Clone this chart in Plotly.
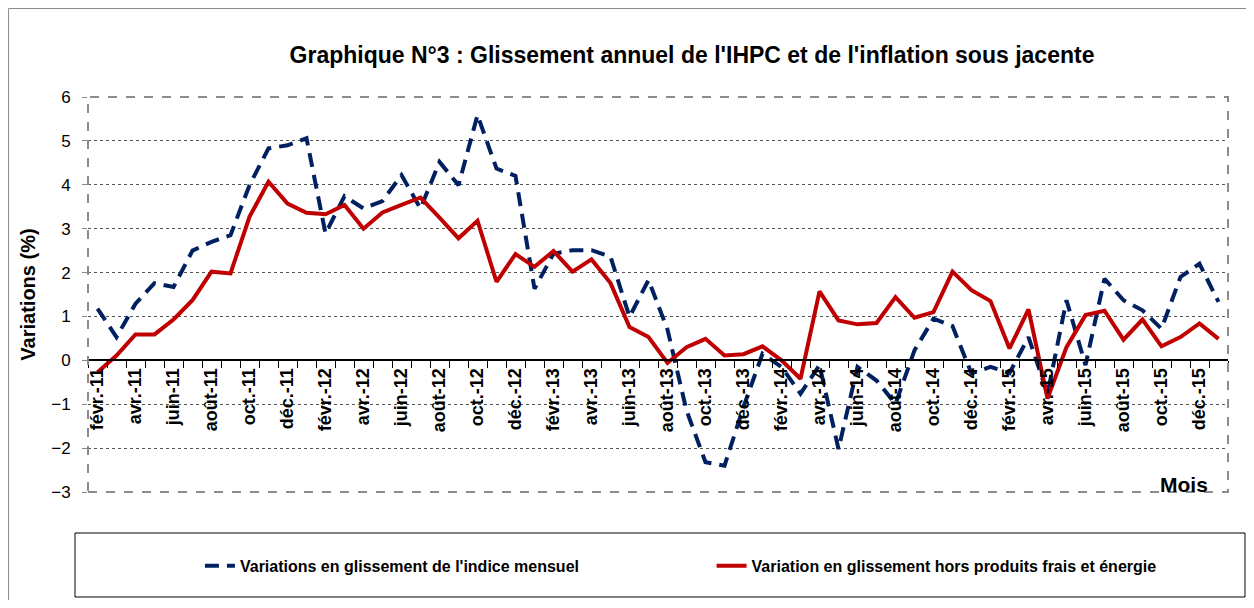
import plotly.graph_objects as go

# months févr.-11 .. janv.-16
month_names = ["janv.", "févr.", "mars", "avr.", "mai", "juin",
               "juil.", "août", "sept.", "oct.", "nov.", "déc."]
months = []
for k in range(60):
    m = (1 + k) % 12
    yr = 11 + (1 + k) // 12
    months.append(f"{month_names[m]}-{yr}")

ihpc = [1.18, 0.53, 1.29, 1.76, 1.67, 2.50, 2.70, 2.85, 3.99, 4.83,
        4.90, 5.06, 2.89, 3.74, 3.46, 3.63, 4.22, 3.46, 4.52, 3.99,
        5.59, 4.37, 4.20, 1.63, 2.43, 2.51, 2.51, 2.36, 0.99, 1.83,
        0.70, -1.14, -2.32, -2.40, -1.06, 0.15, -0.15, -0.76, -0.11, -2.02,
        -0.15, -0.46, -0.99, 0.23, 0.95, 0.78, -0.30, -0.15, -0.29, 0.53,
        -0.76, 1.37, -0.11, 1.86, 1.37, 1.14, 0.72, 1.90, 2.20, 1.33]

sous_jacente = [-0.27, 0.11, 0.59, 0.59, 0.93, 1.37, 2.02, 1.98, 3.27, 4.07,
                3.57, 3.36, 3.33, 3.54, 3.00, 3.37, 3.54, 3.71, 3.25, 2.78,
                3.18, 1.79, 2.42, 2.13, 2.49, 2.02, 2.30, 1.76, 0.76, 0.53,
                -0.06, 0.30, 0.49, 0.11, 0.14, 0.32, 0.00, -0.42, 1.57, 0.91,
                0.82, 0.85, 1.44, 0.97, 1.10, 2.02, 1.60, 1.35, 0.27, 1.16,
                -0.87, 0.30, 1.03, 1.13, 0.47, 0.93, 0.32, 0.53, 0.84, 0.49]

tick_text = [m if i % 2 == 0 else "" for i, m in enumerate(months)]

FONT = "Liberation Sans"
LEG_FONT = dict(size=16, weight="bold")

fig = go.Figure()
fig.add_trace(go.Scatter(
    x=months, y=ihpc, mode="lines",
    name="Variations en glissement de l'indice mensuel",
    line=dict(color="#002060", width=4, dash="14px,8px"),
    legend="legend",
))
fig.add_trace(go.Scatter(
    x=months, y=sous_jacente, mode="lines",
    name="Variation en glissement hors produits frais et énergie",
    line=dict(color="#C00000", width=4),
    legend="legend2",
))

# page body keeps its default 8px margin, so the figure is 16px smaller
fig.update_layout(
    width=1238, height=592,
    margin=dict(l=80, r=18, t=89, b=108, autoexpand=False),
    paper_bgcolor="white", plot_bgcolor="white",
    font=dict(family=FONT, color="black"),
    title=dict(text="Graphique N°3 : Glissement annuel de l'IHPC et de l'inflation sous jacente",
               x=0.5525, xanchor="center", y=0.9206, yanchor="middle",
               font=dict(size=23, weight="bold")),
    showlegend=True,
    legend=dict(orientation="h", x=0.0982, xanchor="left", y=-0.187, yanchor="middle",
                font=LEG_FONT, bgcolor="rgba(0,0,0,0)"),
    legend2=dict(orientation="h", x=0.547, xanchor="left", y=-0.187, yanchor="middle",
                 font=LEG_FONT, bgcolor="rgba(0,0,0,0)"),
    xaxis=dict(type="category", anchor="free", position=3 / 9,
               tickmode="array", tickvals=months, ticktext=tick_text,
               tickangle=-90, tickson="boundaries", ticks="outside",
               ticklen=7, tickcolor="black", showline=True, linecolor="black",
               linewidth=1.5, showgrid=False,
               tickfont=dict(size=18, weight="bold"),
               range=[-0.5, 59.5]),
    yaxis=dict(range=[-3, 6], dtick=1, showgrid=True, gridcolor="#555555",
               griddash="dot", gridwidth=1, zeroline=False,
               ticks="outside", ticklen=5, tickcolor="#888888",
               ticklabelstandoff=8, tickfont=dict(size=17),
               title=dict(text="Variations (%)", font=dict(size=20, weight="bold"),
                          standoff=10)),
)

# plot area dashed frame
fig.add_shape(type="rect", xref="paper", yref="paper", x0=0, x1=1, y0=0, y1=1,
              line=dict(color="#8c8c8c", width=2, dash="dash"))
# legend box
fig.add_shape(type="rect", xref="paper", yref="paper", x0=-0.0114, x1=1.0149,
              y0=-0.2658, y1=-0.1038, line=dict(color="black", width=1))
# outer chart frame
fig.add_shape(type="rect", xref="paper", yref="paper", x0=-0.0697, x1=1.06,
              y0=-0.4, y1=1.2240, line=dict(color="#8c8c8c", width=1))

fig.add_annotation(text="Mois", xref="paper", yref="paper", x=0.984, y=0.02,
                   xanchor="right", yanchor="middle", showarrow=False,
                   font=dict(size=21, weight="bold"))

fig.write_html("out.html")
